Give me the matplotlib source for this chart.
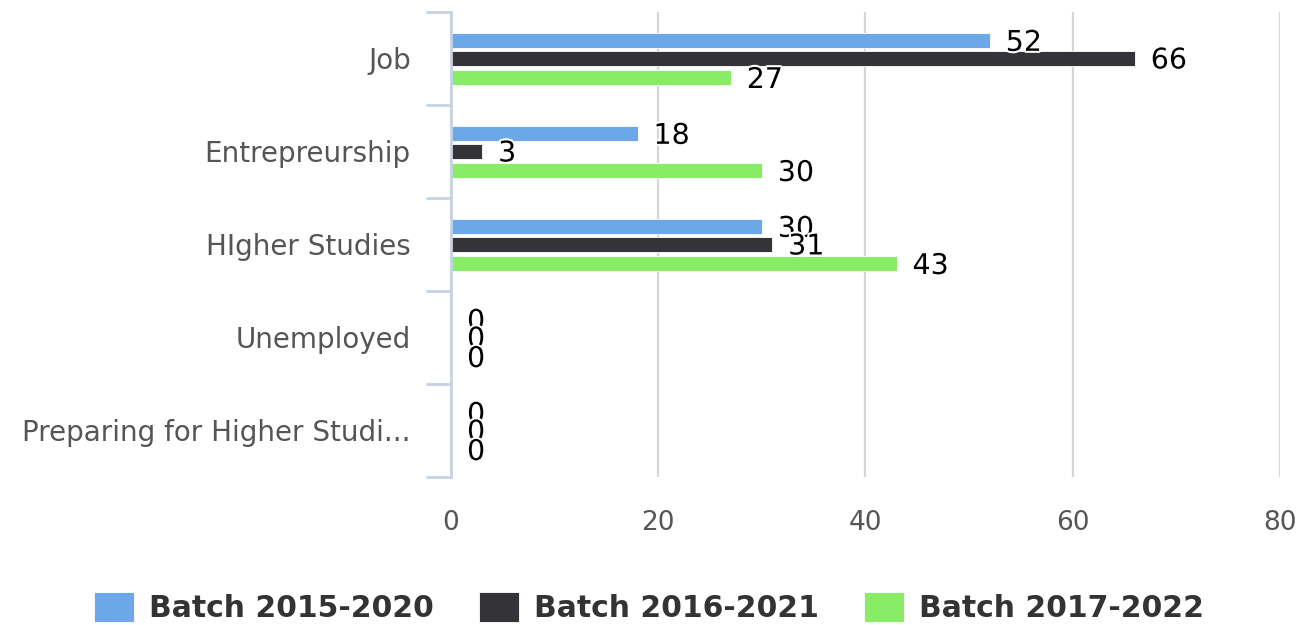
import numpy as np
import matplotlib
matplotlib.use("Agg")
from matplotlib import pyplot as plt
from matplotlib import patheffects as pe

#---------------------------------Data--------------------------------
categories = ["Job", "Entrepreurship", "HIgher Studies", "Unemployed", "Preparing for Higher Studi..."]
batches = ["Batch 2015-2020", "Batch 2016-2021", "Batch 2017-2022"]
batch1 = [52, 18, 30, 0, 0]
batch2 = [66, 3, 31, 0, 0]
batch3 = [27, 30, 43, 0, 0]
xticks = [0, 20, 40, 60, 80]

colors = ["#6ca7e7", "#343438", "#88ec66"]
offsets = [-0.19, 0.0, 0.21]

#---------------------------------Plot--------------------------------
fig = plt.figure(figsize=(12.98, 6.25), dpi=100)
ax = fig.add_axes([0.3475, 0.237, 0.986 - 0.3475, 0.981 - 0.237])

y = np.arange(len(categories))
series = [batch1, batch2, batch3]
for i in range(3):
	ax.barh(y + offsets[i], series[i], height=0.16, color=colors[i],
			edgecolor="white", linewidth=0.6, label=batches[i], zorder=3)
	for yy, v in zip(y + offsets[i], series[i]):
		ax.annotate(str(v), xy=(v, yy), xytext=(11.5, -1.5), textcoords="offset points",
					ha="left", va="center", fontsize=20.5, color="black", zorder=5,
					path_effects=[pe.withStroke(linewidth=3, foreground="white")])

ax.set_xlim(0, 80)
ax.set_ylim(len(categories) - 0.5, -0.5)
ax.set_xticks(xticks)
ax.set_xticklabels([str(t) for t in xticks])
ax.set_yticks(y)
ax.set_yticklabels(categories)
ax.set_yticks(np.arange(-0.5, len(categories)), minor=True)

ax.tick_params(axis="x", length=0, pad=24, labelsize=19, labelcolor="#555555")
ax.tick_params(axis="y", which="major", length=0, pad=29, labelsize=20, labelcolor="#555555")
ax.tick_params(axis="y", which="minor", length=18, width=2, color="#c4d2e2")

ax.grid(axis="x", color="#d6d6d6", linewidth=1.6, zorder=0)
ax.yaxis.grid(False)
for s in ["top", "right", "bottom"]:
	ax.spines[s].set_visible(False)
ax.spines["left"].set_color("#c4d2e2")
ax.spines["left"].set_linewidth(2)
ax.spines["left"].set_zorder(4)

fig.legend(loc="center", bbox_to_anchor=(0.5, 0.028), ncol=3, frameon=False,
		   prop={"size": 21.5, "weight": "bold"}, handlelength=1.35, handleheight=1.2,
		   handletextpad=0.5, columnspacing=1.5, labelcolor="#333333")

fig.savefig("out.png", dpi=100)
